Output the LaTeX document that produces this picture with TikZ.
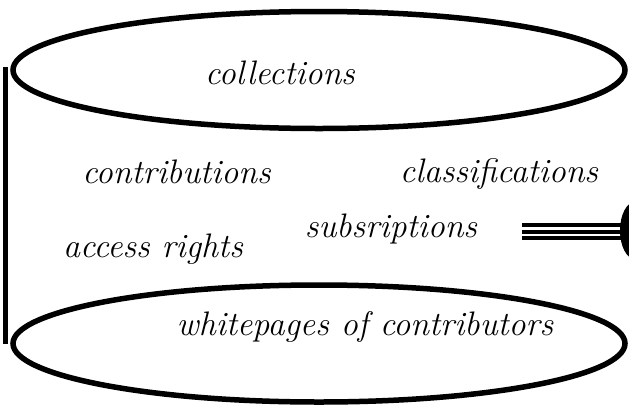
\documentclass[tikz,border=0pt]{standalone}
\usetikzlibrary{shapes.geometric}
\begin{document}
\begin{tikzpicture}[x=1pt,y=-1pt,
  disk/.style={draw, line width=5.5pt, ellipse, minimum width=612pt, minimum height=117pt, inner sep=0pt},
  itemtext/.style={font=\fontsize{34}{40}\selectfont\itshape, inner sep=0pt, anchor=base},
  wire/.style={line width=4pt},
  plug/.style={fill=black, ellipse, minimum width=30pt, minimum height=57pt, inner sep=0pt}]
\useasboundingbox (0,0) rectangle (629,405);
% cylinder: two end discs and the left side wall
\node[disk] (top) at (319,70) {};
\node[disk] (bottom) at (319,343.5) {};
\draw[line width=5pt] (top.west) ++(-4.5,-3) coordinate (wtop) -- (wtop |- bottom.west) coordinate (wbot);
% contents
\node[itemtext] (coll) at (280,84.5) {collections};
\node[itemtext] (contr) at (176.5,183) {contributions};
\node[itemtext] (class) at (499,182) {classifications};
\node[itemtext] (subs) at (391,237) {subsriptions};
\node[itemtext] (acc) at (153,257) {access rights};
\node[itemtext] (white) at (365,335) {whitepages of contributors};
% connector plug on the right
\node[plug] (jack) at (635,230.5) {};
\coordinate (c1) at (522,225);
\coordinate (c2) at (522,231.5);
\coordinate (c3) at (522,238);
\draw[wire] (c1) -- (c1 -| jack.center);
\draw[wire] (c2) -- (c2 -| jack.center);
\draw[wire] (c3) -- (c3 -| jack.center);
\end{tikzpicture}
\end{document}
